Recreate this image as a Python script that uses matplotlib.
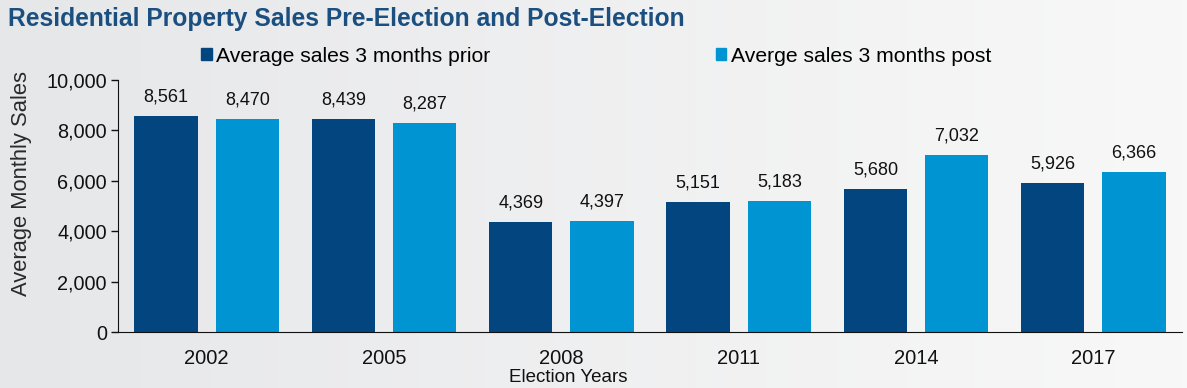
import numpy as np
import matplotlib
matplotlib.use("Agg")
import matplotlib.pyplot as plt
from matplotlib.patches import Patch
from matplotlib.ticker import FuncFormatter
from matplotlib.colors import LinearSegmentedColormap

years = ["2002", "2005", "2008", "2011", "2014", "2017"]
prior = [8561, 8439, 4369, 5151, 5680, 5926]
post = [8470, 8287, 4397, 5183, 7032, 6366]
series_names = ["Average sales 3 months prior", "Averge sales 3 months post"]
title = "Residential Property Sales Pre-Election and Post-Election"
ylabel = "Average Monthly Sales"
xlabel = "Election Years"

dark = "#03467F"
light = "#0095D2"

plt.rcParams["font.family"] = ["Liberation Sans", "DejaVu Sans"]

fig = plt.figure(figsize=(11.87, 3.88), dpi=100)

# background gradient
bg = fig.add_axes([0, 0, 1, 1], zorder=-10)
grad = np.linspace(0, 1, 256).reshape(1, -1)
cmap = LinearSegmentedColormap.from_list("bg", ["#e6e7e9", "#f8f8f8"])
bg.imshow(grad, aspect="auto", cmap=cmap, extent=[0, 1, 0, 1])
bg.axis("off")

ax = fig.add_axes([118 / 1187, 56 / 388, 1064 / 1187, 252 / 388])
ax.set_facecolor("none")

x = np.arange(len(years)) + 0.5
w = 0.356
off = 0.229
b1 = ax.bar(x - off, prior, w, color=dark, label=series_names[0])
b2 = ax.bar(x + off, post, w, color=light, label=series_names[1])

fmt = lambda v: f"{v:,.0f}"
ax.bar_label(b1, labels=[fmt(v) for v in prior], padding=7.5, fontsize=13, color="#111111")
ax.bar_label(b2, labels=[fmt(v) for v in post], padding=7.5, fontsize=13, color="#111111")

ax.set_xlim(0, len(years))
ax.set_ylim(0, 10000)
ax.set_yticks(np.arange(0, 10001, 2000))
ax.yaxis.set_major_formatter(FuncFormatter(lambda v, p: f"{v:,.0f}"))
ax.set_xticks(x)
ax.set_xticklabels(years)
ax.tick_params(axis="y", labelsize=14.3, length=5, width=1, color="#111111", pad=3, labelcolor="#111111")
ax.tick_params(axis="x", labelsize=14.5, length=0, pad=12, labelcolor="#111111")
for s in ["top", "right"]:
    ax.spines[s].set_visible(False)
ax.spines["left"].set_color("#111111")
ax.spines["bottom"].set_color("#111111")

fig.text(22 / 1187, 1 - 183 / 388, ylabel, rotation=90, ha="center", va="center",
         fontsize=15.8, color="#2a2a2a")
fig.text(568 / 1187, 1 - 378 / 388, xlabel, ha="center", va="center", fontsize=13.5, color="#111111")
fig.text(8 / 1187, 1 - 19 / 388, title, ha="left", va="center", fontsize=17.7,
         fontweight="bold", color="#1b4f80")

handles = [Patch(color=dark), Patch(color=light)]
fig.legend(handles, series_names, loc="center left", bbox_to_anchor=(201 / 1187, 1 - 56 / 388),
           ncol=2, frameon=False, fontsize=15.2, handlelength=0.5, handleheight=0.5,
           handletextpad=0.2, columnspacing=10.7, borderpad=0, borderaxespad=0)

fig.savefig("out.png", dpi=100)
